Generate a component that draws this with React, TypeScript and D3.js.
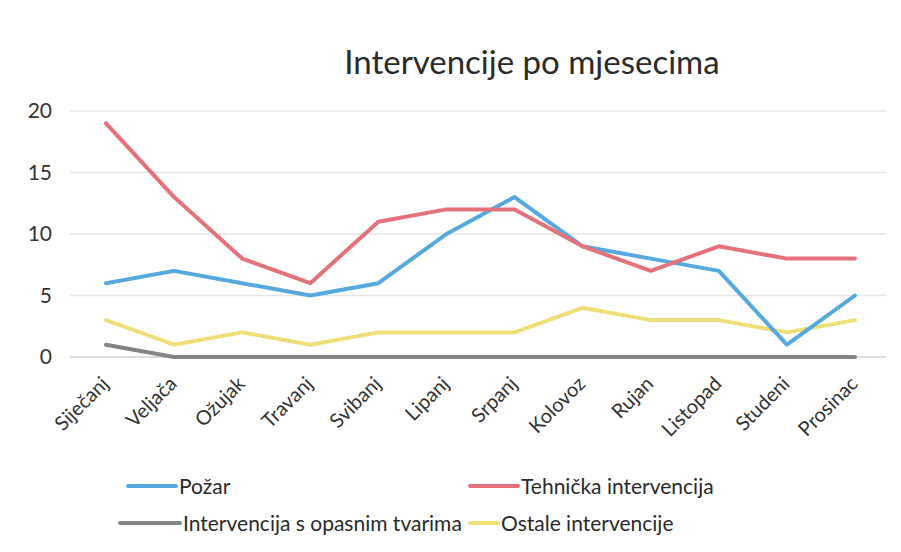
import React from "react";
import * as d3 from "d3";

const months = ["Siječanj", "Veljača", "Ožujak", "Travanj", "Svibanj", "Lipanj", "Srpanj", "Kolovoz", "Rujan", "Listopad", "Studeni", "Prosinac"];
const pozar = [6, 7, 6, 5, 6, 10, 13, 9, 8, 7, 1, 5];
const tehnicka = [19, 13, 8, 6, 11, 12, 12, 9, 7, 9, 8, 8];
const opasne = [1, 0, 0, 0, 0, 0, 0, 0, 0, 0, 0, 0];
const ostale = [3, 1, 2, 1, 2, 2, 2, 4, 3, 3, 2, 3];
const yTicks = [0, 5, 10, 15, 20];

const seriesList = [
  { name: "Požar", values: pozar, color: "#55a9de" },
  { name: "Tehnička intervencija", values: tehnicka, color: "#e5727a" },
  { name: "Intervencija s opasnim tvarima", values: opasne, color: "#858585" },
  { name: "Ostale intervencije", values: ostale, color: "#efdf78" },
];

const W = 901;
const H = 552;
const font = "Lato, 'Open Sans', sans-serif";

export default function App() {
  const x = d3.scalePoint<string>().domain(months).range([106, 855]);
  const y = d3.scaleLinear().domain([0, 20]).range([357, 111]);
  const line = d3
    .line<number>()
    .x((_, i) => x(months[i]) as number)
    .y((d) => y(d));

  const drawOrder = [2, 3, 0, 1];
  const legendPos = [
    { lx: 128, ly: 486 },
    { lx: 470, ly: 486 },
    { lx: 120, ly: 523 },
    { lx: 470, ly: 523 },
  ];
  const legendLen = [48, 48, 60, 28];

  return (
    <svg width={W} height={H} style={{ position: "absolute", left: 0, top: 0, background: "#fff" }}>
      <rect x={0} y={0} width={W} height={H} fill="#fff" />
      <text x={532} y={74} textAnchor="middle" fontFamily={font} fontSize={33} fill="#2a2a2a">
        Intervencije po mjesecima
      </text>
      {yTicks.map((t) => (
        <g key={t}>
          <line x1={70} x2={886} y1={y(t)} y2={y(t)} stroke={t === 0 ? "#cfcfcf" : "#e6e6e6"} strokeWidth={1.5} />
          <text x={52} y={y(t) + 7} textAnchor="end" fontFamily={font} fontSize={21} fill="#333">
            {t}
          </text>
        </g>
      ))}
      {months.map((m) => (
        <text
          key={m}
          transform={`translate(${(x(m) as number) + 4},${385}) rotate(-45)`}
          textAnchor="end"
          fontFamily={font}
          fontSize={20}
          fill="#333"
        >
          {m}
        </text>
      ))}
      {drawOrder.map((i) => (
        <path
          key={seriesList[i].name}
          d={line(seriesList[i].values) as string}
          fill="none"
          stroke={seriesList[i].color}
          strokeWidth={4}
          strokeLinejoin="round"
          strokeLinecap="round"
        />
      ))}
      {seriesList.map((s, i) => (
        <g key={s.name}>
          <line
            x1={legendPos[i].lx}
            x2={legendPos[i].lx + legendLen[i]}
            y1={legendPos[i].ly}
            y2={legendPos[i].ly}
            stroke={s.color}
            strokeWidth={4}
            strokeLinecap="round"
          />
          <text
            x={legendPos[i].lx + legendLen[i] + 3}
            y={legendPos[i].ly + 8}
            fontFamily={font}
            fontSize={21}
            fill="#2a2a2a"
          >
            {s.name}
          </text>
        </g>
      ))}
    </svg>
  );
}
